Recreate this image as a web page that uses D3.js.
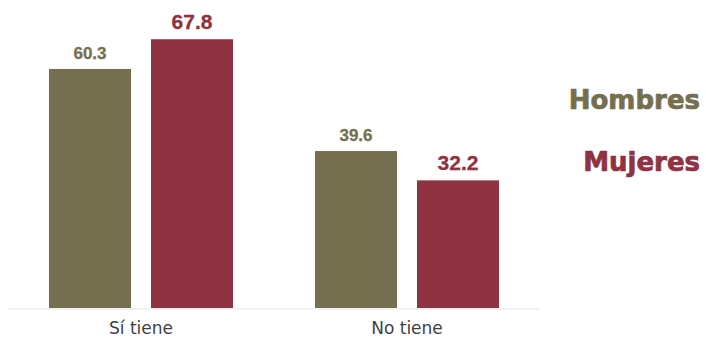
<!DOCTYPE html>
<html>
<head>
<meta charset="utf-8">
<script src="https://cdn.jsdelivr.net/npm/d3@7"></script>
<style>
  html, body { margin: 0; padding: 0; background: #ffffff; }
  svg { display: block; }
</style>
</head>
<body>
<svg id="chart" width="706" height="340"></svg>
<script>
const categories = ["Sí tiene", "No tiene"];
const seriesNames = ["Hombres", "Mujeres"];
const hombres = [60.3, 39.6];
const mujeres = [67.8, 32.2];

const colors = { "Hombres": "#756f4f", "Mujeres": "#8f3242" };
const labelSize = { "Hombres": 17, "Mujeres": 21 };

const data = categories.map((c, i) => ({
  category: c,
  values: [
    { key: "Hombres", value: hombres[i] },
    { key: "Mujeres", value: mujeres[i] }
  ]
}));

const svg = d3.select("#chart");

const x0 = d3.scaleBand().domain(categories).range([8, 540]).padding(0);
const x1 = d3.scaleBand().domain(seriesNames).range([41, 225]).paddingInner(20 / 102).paddingOuter(0);
const y = d3.scaleLinear().domain([0, 77.7]).range([308, 0]);

// baseline axis
const xAxis = d3.axisBottom(x0).tickSize(0).tickPadding(12);
const axisG = svg.append("g").attr("transform", "translate(0,308.5)").call(xAxis);
axisG.select(".domain").attr("stroke", "#e6e6e6").attr("stroke-width", 1.2);
axisG.selectAll("text")
  .attr("font-family", "'DejaVu Sans', sans-serif")
  .attr("font-size", 17)
  .attr("fill", "#3f3f3f")
  .attr("dy", "0.78em");

const groups = svg.selectAll("g.grp").data(data).enter().append("g")
  .attr("class", "grp")
  .attr("transform", d => `translate(${x0(d.category)},0)`);

groups.selectAll("rect").data(d => d.values).enter().append("rect")
  .attr("x", d => x1(d.key))
  .attr("width", x1.bandwidth())
  .attr("y", d => y(d.value))
  .attr("height", d => y(0) - y(d.value))
  .attr("fill", d => colors[d.key]);

groups.selectAll("text.val").data(d => d.values).enter().append("text")
  .attr("class", "val")
  .attr("x", d => x1(d.key) + x1.bandwidth() / 2)
  .attr("y", d => y(d.value) - 10)
  .attr("text-anchor", "middle")
  .attr("font-family", "'Liberation Sans', Arial, sans-serif")
  .attr("font-weight", "bold")
  .attr("font-size", d => labelSize[d.key])
  .attr("fill", d => colors[d.key])
  .attr("stroke", d => colors[d.key])
  .attr("stroke-width", 0.3)
  .attr("stroke-linejoin", "round")
  .text(d => d.value.toFixed(1));

// legend
const legendY = { "Hombres": 109, "Mujeres": 171 };
svg.selectAll("text.leg").data(seriesNames).enter().append("text")
  .attr("class", "leg")
  .attr("x", 700)
  .attr("y", d => legendY[d])
  .attr("text-anchor", "end")
  .attr("font-family", "'DejaVu Sans', sans-serif")
  .attr("font-weight", "bold")
  .attr("font-size", 26)
  .attr("fill", d => colors[d])
  .attr("stroke", d => colors[d])
  .attr("stroke-width", 0.7)
  .attr("stroke-linejoin", "round")
  .text(d => d);
</script>
</body>
</html>
